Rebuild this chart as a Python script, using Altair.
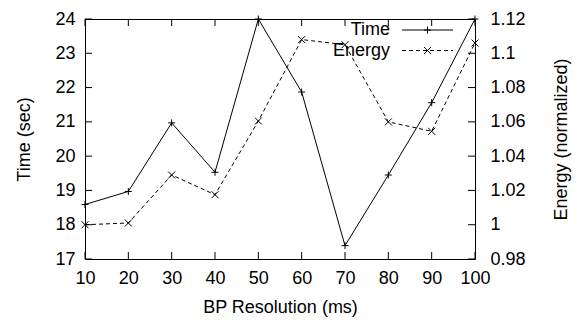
import altair as alt
import pandas as pd

# ---- data ----
bp_res = [10, 20, 30, 40, 50, 60, 70, 80, 90, 100]
time_sec = [18.59, 18.97, 20.97, 19.53, 24.0, 21.87, 17.39, 19.45, 21.56, 24.0]
energy_norm = [1.000, 1.001, 1.029, 1.0175, 1.0605, 1.108, 1.105, 1.060, 1.0545, 1.106]

x_ticks = [10, 20, 30, 40, 50, 60, 70, 80, 90, 100]
time_ticks = [17, 18, 19, 20, 21, 22, 23, 24]
energy_ticks = [0.98, 1.0, 1.02, 1.04, 1.06, 1.08, 1.1, 1.12]
series_names = ["Time", "Energy"]

W, H = 390, 240
FONT = "Liberation Sans"
FS = 18
TICK = 7
PLUS = "M-1,0L1,0M0,-1L0,1"
CROSS = "M-1,-1L1,1M-1,1L1,-1"

df = pd.DataFrame({"bp": bp_res, "time": time_sec, "energy": energy_norm})
xt = pd.DataFrame({"bp": x_ticks})
tt = pd.DataFrame({"time": time_ticks})
et = pd.DataFrame({"energy": energy_ticks})

xscale = alt.Scale(domain=[10, 100], nice=False, zero=False)
tscale = alt.Scale(domain=[17, 24], nice=False, zero=False)
escale = alt.Scale(domain=[0.98, 1.12], nice=False, zero=False)

common_axis = dict(labelFont=FONT, labelFontSize=FS, labelColor="black",
                   titleFont=FONT, titleFontSize=FS, titleColor="black",
                   titleFontWeight="normal", ticks=False, tickSize=0,
                   domain=False, grid=False, labelFlush=False, labelOverlap=False,
                   labelSeparation=0)

xaxis = alt.Axis(values=x_ticks, title="BP Resolution (ms)", labelPadding=10.5,
                 titleX=W / 2, titleY=53, titleAlign="center",
                 titleBaseline="alphabetic", titleAngle=0, **common_axis)
taxis = alt.Axis(values=time_ticks, title="Time (sec)", labelPadding=10,
                 titleX=-55.5, titleY=H / 2, titleAlign="center",
                 titleBaseline="alphabetic", titleAngle=270, orient="left",
                 **common_axis)
eaxis = alt.Axis(values=energy_ticks, title="Energy (normalized)", format="~g",
                 labelPadding=15, titleX=91.7, titleY=H / 2, titleAlign="center",
                 titleBaseline="alphabetic", titleAngle=270, orient="right",
                 **common_axis)

base = alt.Chart(df)

time_line = base.mark_line(color="black", strokeWidth=1).encode(
    x=alt.X("bp:Q", scale=xscale, axis=xaxis),
    y=alt.Y("time:Q", scale=tscale, axis=taxis),
)
time_pts = base.mark_point(shape=PLUS, filled=False, color="black", size=49,
                           strokeWidth=1, opacity=1).encode(
    x=alt.X("bp:Q", scale=xscale, axis=xaxis),
    y=alt.Y("time:Q", scale=tscale, axis=taxis))

xtick_bot = alt.Chart(xt).mark_rule(color="black", strokeWidth=1).encode(
    x=alt.X("bp:Q", scale=xscale, axis=xaxis), y=alt.value(H), y2=alt.value(H - TICK))
xtick_top = alt.Chart(xt).mark_rule(color="black", strokeWidth=1).encode(
    x=alt.X("bp:Q", scale=xscale, axis=xaxis), y=alt.value(0), y2=alt.value(TICK))
ttick = alt.Chart(tt).mark_rule(color="black", strokeWidth=1).encode(
    y=alt.Y("time:Q", scale=tscale, axis=taxis), x=alt.value(0), x2=alt.value(TICK))

# key (gnuplot style: label left, sample right)
ROW1, ROW2 = 11, 31.5
leg_t_text = alt.Chart(pd.DataFrame({"name": [series_names[0]]})).mark_text(
    align="right", baseline="middle", font=FONT, fontSize=FS, color="black").encode(
    text="name:N", x=alt.value(305), y=alt.value(ROW1))
leg_e_text = alt.Chart(pd.DataFrame({"name": [series_names[1]]})).mark_text(
    align="right", baseline="middle", font=FONT, fontSize=FS, color="black").encode(
    text="name:N", x=alt.value(305), y=alt.value(ROW2))
leg_t_line = alt.Chart(pd.DataFrame({"name": [series_names[0]]})).mark_rule(
    color="black", strokeWidth=1).encode(x=alt.value(317), x2=alt.value(368), y=alt.value(ROW1))
leg_e_line = alt.Chart(pd.DataFrame({"name": [series_names[1]]})).mark_rule(
    color="black", strokeWidth=1, strokeDash=[4, 3]).encode(
    x=alt.value(317), x2=alt.value(368), y=alt.value(ROW2))
leg_t_pt = alt.Chart(pd.DataFrame({"name": [series_names[0]]})).mark_point(
    shape=PLUS, filled=False, color="black", size=49, strokeWidth=1, opacity=1).encode(
    x=alt.value(342.5), y=alt.value(ROW1))
leg_e_pt = alt.Chart(pd.DataFrame({"name": [series_names[1]]})).mark_point(
    shape=CROSS, filled=False, color="black", size=49, strokeWidth=1, opacity=1).encode(
    x=alt.value(342.5), y=alt.value(ROW2))

time_group = alt.layer(time_line, time_pts, xtick_bot, xtick_top, ttick,
                       leg_t_text, leg_e_text, leg_t_line, leg_e_line,
                       leg_t_pt, leg_e_pt)

energy_line = base.mark_line(color="black", strokeWidth=1, strokeDash=[4, 3]).encode(
    x=alt.X("bp:Q", scale=xscale, axis=xaxis),
    y=alt.Y("energy:Q", scale=escale, axis=eaxis),
)
energy_pts = base.mark_point(shape=CROSS, filled=False, color="black", size=49,
                             strokeWidth=1, opacity=1).encode(
    x=alt.X("bp:Q", scale=xscale, axis=xaxis),
    y=alt.Y("energy:Q", scale=escale, axis=eaxis))
etick = alt.Chart(et).mark_rule(color="black", strokeWidth=1).encode(
    y=alt.Y("energy:Q", scale=escale, axis=eaxis), x=alt.value(W), x2=alt.value(W - TICK))

energy_group = alt.layer(energy_line, energy_pts, etick)

chart = alt.layer(time_group, energy_group).resolve_scale(y="independent").properties(
    width=W, height=H,
    autosize=alt.AutoSizeParams(type="none"),
    padding={"left": 77, "top": 11, "right": 97, "bottom": 60},
    background="white",
).configure_view(stroke="black", strokeWidth=1).configure_axis(
    labelOverlap=False, labelSeparation=0)

chart.save("out.html", embed_options={"renderer": "svg", "actions": False})
